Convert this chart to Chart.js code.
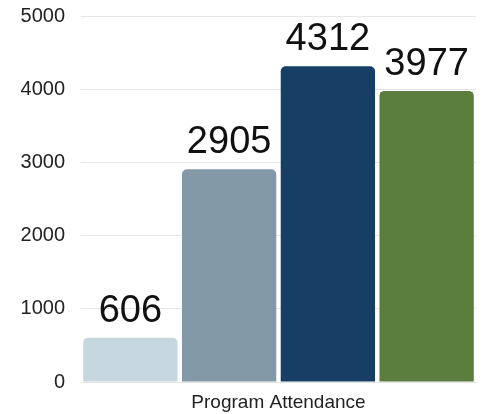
<!DOCTYPE html>
<html>
<head>
<meta charset="utf-8">
<script src="https://cdn.jsdelivr.net/npm/chart.js@4/dist/chart.umd.min.js"></script>
<style>
  html, body { margin: 0; padding: 0; background: #ffffff; }
  #wrap { width: 487px; height: 414px; position: relative; }
</style>
</head>
<body>
<div id="wrap"><canvas id="c" width="487" height="414"></canvas></div>
<script>
const categories = ["Program Attendance"];
const seriesNames = ["Series 1", "Series 2", "Series 3", "Series 4"];
const seriesValues = [606, 2905, 4312, 3977];
const seriesColors = ["#c6d7df", "#8499a8", "#173f66", "#5b7d3d"];
const yTicks = [0, 1000, 2000, 3000, 4000, 5000];

const valueLabels = {
  id: 'valueLabels',
  afterDatasetsDraw(chart) {
    const ctx = chart.ctx;
    ctx.save();
    ctx.font = '38px "Liberation Sans", Arial, sans-serif';
    ctx.fillStyle = '#111111';
    ctx.textAlign = 'center';
    ctx.textBaseline = 'alphabetic';
    chart.data.datasets.forEach((ds, i) => {
      const meta = chart.getDatasetMeta(i);
      meta.data.forEach((bar, j) => {
        ctx.fillText(String(ds.data[j]), bar.x, bar.y - 16);
      });
    });
    ctx.restore();
  }
};

const datasets = seriesNames.map((name, i) => ({
  label: name,
  data: [seriesValues[i]],
  backgroundColor: seriesColors[i],
  borderRadius: { topLeft: 5, topRight: 5, bottomLeft: 0, bottomRight: 0 },
  borderSkipped: 'bottom',
  categoryPercentage: 1.0,
  barPercentage: 0.955
}));

new Chart(document.getElementById('c'), {
  type: 'bar',
  data: { labels: categories, datasets },
  plugins: [valueLabels],
  options: {
    responsive: false,
    animation: false,
    layout: { autoPadding: false, padding: { top: 16, right: 11, bottom: 0, left: 0 } },
    plugins: { legend: { display: false }, tooltip: { enabled: false } },
    scales: {
      x: {
        afterFit(axis) { axis.height = 32; axis.paddingLeft = 0; axis.paddingRight = 0; },
        grid: { display: false, drawTicks: false },
        border: { display: true, color: '#e4e4e4' },
        ticks: { color: '#222222', font: { family: '"Liberation Sans", Arial, sans-serif', size: 19 }, padding: 9 }
      },
      y: {
        min: 0, max: 5000,
        afterBuildTicks(axis) { axis.ticks = yTicks.map(v => ({ value: v })); },
        afterFit(axis) { axis.width = 81; axis.paddingTop = 0; axis.paddingBottom = 0; },
        grid: { color: '#e6e6e6', drawTicks: false, lineWidth: 1 },
        border: { display: false },
        ticks: {
          color: '#222222',
          font: { family: '"Liberation Sans", Arial, sans-serif', size: 20 },
          padding: 16,
          callback: (v) => String(v)
        }
      }
    }
  }
});
</script>
</body>
</html>
